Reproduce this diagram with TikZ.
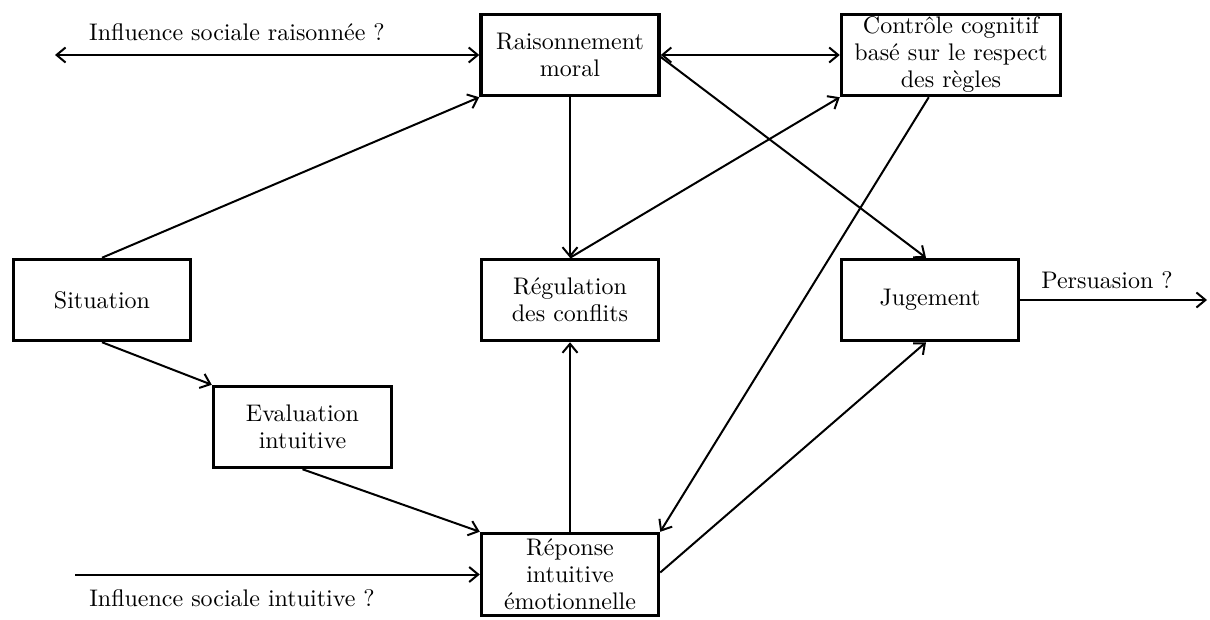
\documentclass[tikz,border=0pt]{standalone}
\usepackage{fontspec}
\setmainfont{lmroman10}[Extension=.otf, UprightFont=*-regular, BoldFont=*-bold, ItalicFont=*-italic]
\usetikzlibrary{arrows.meta,calc}
\tikzset{
  box/.style={draw, line width=3.5pt, inner sep=0pt, minimum height=81pt, align=center, font=\fontsize{24}{27}\selectfont},
  lbl/.style={inner sep=0pt, font=\fontsize{24}{27}\selectfont},
  conn/.style={line width=2pt, -{Straight Barb[length=9pt,width=15pt,line width=2pt]}},
  dconn/.style={line width=2pt, {Straight Barb[length=9pt,width=15pt,line width=2pt]}-{Straight Barb[length=9pt,width=15pt,line width=2pt]}}
}
\begin{document}
\begin{tikzpicture}[x=1pt,y=1pt]
\useasboundingbox[fill=white] (0,0) rectangle (1210,619);
% boxes
\node[box, minimum width=178pt] (R) at (570,564) {Raisonnement\\moral};
\node[box, minimum width=219pt] (C) at (951,564) {Contrôle cognitif\\basé sur le respect\\des règles};
\node[box, minimum width=177pt] (S) at (102,319) {Situation};
\node[box, minimum width=177pt] (G) at (570,319) {Régulation\\des conflits};
\node[box, minimum width=177pt] (J) at (930,319) {Jugement};
\node[box, minimum width=178pt] (E) at (302.5,192) {Evaluation\\intuitive};
\node[box, minimum width=177pt, minimum height=82pt] (P) at (570,44.5) {Réponse\\intuitive\\émotionnelle};
% free ends
\coordinate (irL) at (55,564);
\coordinate (iiL) at (75,44.5);
\coordinate (prR) at (1207,319);
% labels
\node[lbl] (lir) at (237,587) {Influence sociale raisonnée ?};
\node[lbl] (lii) at (232,21) {Influence sociale intuitive ?};
\node[lbl] (lpr) at (1107,339) {Persuasion ?};
% connectors
\draw[dconn] (irL) -- (R.west);
\draw[conn] (S.north) -- (R.south west);
\draw[conn] (R.south) -- (G.north);
\draw[dconn] (R.east) -- (C.west);
\draw[conn] ([yshift=-2pt]R.east) -- ([xshift=-4pt]J.north);
\draw[conn] (G.north) -- (C.south west);
\draw[conn] ($(C.south west)!0.4!(C.south east)$) -- (P.north east);
\draw[conn] ([yshift=2pt]P.east) -- ([xshift=-4pt]J.south);
\draw[conn] (P.north) -- (G.south);
\draw[conn] (S.south) -- (E.north west);
\draw[conn] (E.south) -- (P.north west);
\draw[conn] (iiL) -- (P.west);
\draw[conn] (J.east) -- (prR);
\end{tikzpicture}
\end{document}
